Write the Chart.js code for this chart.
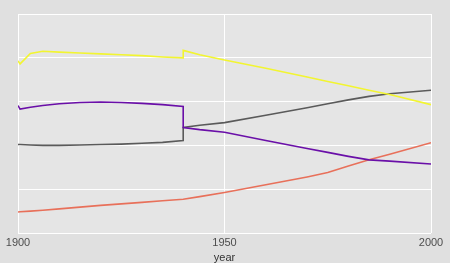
<!DOCTYPE html>
<html>
<head>
<meta charset="utf-8">
<script src="https://cdn.jsdelivr.net/npm/chart.js@4"></script>
<style>
    html, body { margin: 0; padding: 0; background: #e0e0e0; }
    #wrap { width: 450px; height: 263px; }
</style>
</head>
<body>
<div id="wrap"><canvas id="yearChart"></canvas></div>
<script>
// 1940 shows up twice because the series jump there
let years = [1900, 1900.5, 1903, 1906, 1910, 1915, 1920, 1925, 1930, 1935, 1940, 1940,
    1944, 1950, 1960, 1970, 1975, 1980, 1985, 1990, 2000];

let yellowValues = [3.93, 3.86, 4.10, 4.15, 4.13, 4.11, 4.09, 4.07, 4.05, 4.02, 4.00, 4.17,
    4.07, 3.95, 3.76, 3.56, 3.46, 3.36, 3.26, 3.16, 2.93];
let purpleValues = [2.91, 2.83, 2.87, 2.91, 2.95, 2.98, 2.99, 2.98, 2.96, 2.93, 2.89, 2.41,
    2.36, 2.30, 2.11, 1.93, 1.84, 1.75, 1.67, 1.64, 1.575];
let greyValues = [2.02, 2.02, 2.01, 2.00, 2.00, 2.01, 2.02, 2.03, 2.05, 2.07, 2.11, 2.41,
    2.46, 2.52, 2.69, 2.86, 2.95, 3.04, 3.12, 3.18, 3.26];
let orangeValues = [0.48, 0.485, 0.50, 0.52, 0.55, 0.59, 0.63, 0.665, 0.70, 0.735, 0.77, 0.77,
    0.83, 0.925, 1.10, 1.28, 1.38, 1.53, 1.67, 1.80, 2.06];

let xTicks = [1900, 1950, 2000];

function toPoints(values) {
    return years.map((yr, i) => ({ x: yr, y: values[i] }));
}

let panelBackground = {
    id: 'panelBackground',
    beforeDraw(chart) {
        let ctx = chart.ctx;
        let a = chart.chartArea;
        ctx.save();
        ctx.fillStyle = '#e0e0e0';
        ctx.fillRect(0, 0, chart.width, chart.height);
        ctx.fillStyle = '#e5e5e5';
        ctx.fillRect(a.left, a.top, a.right - a.left, a.bottom - a.top);
        ctx.restore();
    }
};

function yearChart() {
    let canvas = document.getElementById('yearChart');

    let series = [
        { data: yellowValues, color: '#f2f531' },
        { data: purpleValues, color: '#6a0fa8' },
        { data: greyValues, color: '#5a5a5a' },
        { data: orangeValues, color: '#e8705a' }
    ];

    let chartData = {
        datasets: series.map(s => ({
            data: toPoints(s.data),
            borderColor: s.color,
            borderWidth: 1.6,
            pointRadius: 0,
            tension: 0,
            fill: false
        }))
    };

    let chartOptions = {
        responsive: true,
        maintainAspectRatio: false,
        animation: { duration: 0 },
        layout: { padding: { left: 18, right: 19, top: 14, bottom: 0 } },
        scales: {
            x: {
                type: 'linear',
                min: 1900,
                max: 2000,
                afterBuildTicks(axis) {
                    axis.ticks = xTicks.map(v => ({ value: v }));
                },
                ticks: {
                    padding: 4,
                    color: '#4d4d4d',
                    font: { family: 'Liberation Sans', size: 11, lineHeight: 1.0 },
                    maxRotation: 0,
                    callback: v => String(v)
                },
                grid: { color: '#ffffff', lineWidth: 1, drawTicks: false },
                border: { display: false },
                title: {
                    display: true,
                    text: 'year',
                    color: '#333333',
                    font: { family: 'Liberation Sans', size: 11, lineHeight: 1.0 },
                    padding: { top: 0, bottom: 0 }
                }
            },
            y: {
                min: 0,
                max: 5,
                ticks: { stepSize: 1, display: false },
                grid: { color: '#ffffff', lineWidth: 1, drawTicks: false },
                border: { display: false }
            }
        },
        plugins: {
            legend: { display: false },
            tooltip: { enabled: false }
        }
    };

    return new Chart(canvas, {
        type: 'line',
        data: chartData,
        options: chartOptions,
        plugins: [panelBackground]
    });
}

yearChart();
</script>
</body>
</html>
